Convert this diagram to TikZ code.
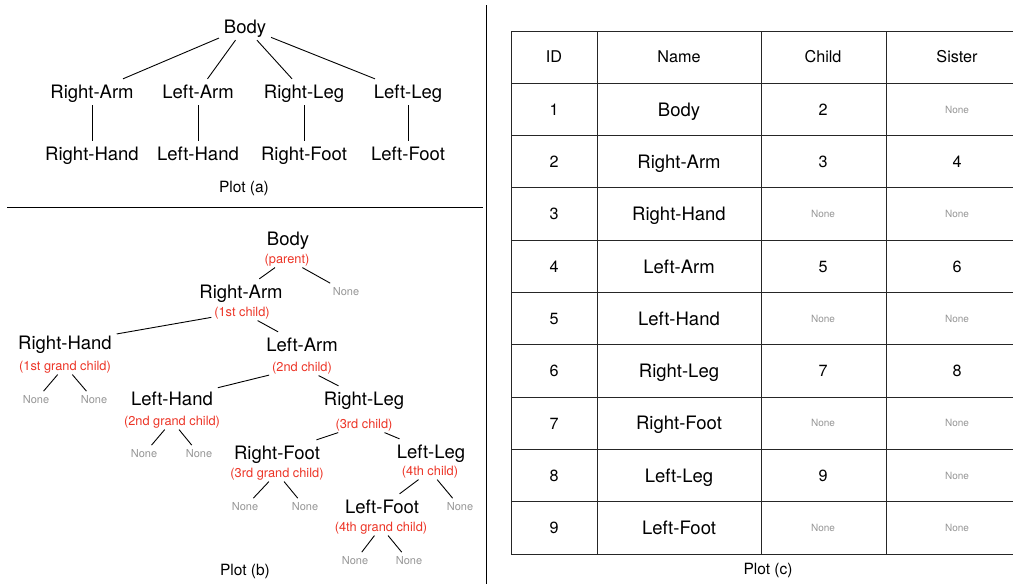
\documentclass[tikz,border=0pt]{standalone}
\usepackage{fontspec}
\setmainfont{TeX Gyre Heros}
\usepackage{xcolor}
\definecolor{rolered}{RGB}{236,52,38}
\definecolor{nonegray}{RGB}{150,150,150}
\newcommand\nn{\raisebox{2.2pt}{\fontsize{10}{12}\selectfont\color{nonegray}None}}

\begin{document}
\begin{tikzpicture}[x=1pt,y=-1pt,
  part/.style={font=\fontsize{18.5}{20}\selectfont, inner sep=2pt, outer sep=3pt, text height=14.8pt, text depth=1.5pt},
  role/.style={font=\fontsize{12.8}{14}\selectfont, text=rolered, inner sep=1.5pt, outer sep=1.5pt, text height=10.2pt, text depth=1pt},
  none/.style={font=\fontsize{11}{13}\selectfont, text=nonegray, inner sep=2pt, outer sep=2pt, text height=8.8pt, text depth=.9pt},
  caption/.style={font=\fontsize{15.5}{17}\selectfont, text height=12.4pt, text depth=1.2pt},
  cell/.style={font=\fontsize{16.2}{18}\selectfont, text height=13pt, text depth=1.3pt},
  link/.style={line width=0.9pt},
  grid/.style={line width=0.9pt, draw=black!85}]
  \useasboundingbox (0,0) rectangle (1013,584);

  % panel borders
  \draw[link] (7,207) -- (483,207);
  \draw[link] (486,5) -- (486,584);

  % plot (a)
  \node[part] (body) at (245,27) {Body};
  \node[part] (rarm) at (92,92) {Right-Arm};
  \node[part] (larm) at (198,92) {Left-Arm};
  \node[part] (rleg) at (304,92) {Right-Leg};
  \node[part] (lleg) at (408,92) {Left-Leg};
  \node[part] (rhand) at (92,154) {Right-Hand};
  \node[part] (lhand) at (198,154) {Left-Hand};
  \node[part] (rfoot) at (304,154) {Right-Foot};
  \node[part] (lfoot) at (408,154) {Left-Foot};
  \node[caption] (capa) at (244,187) {Plot (a)};
  \foreach \a/\b in {body/rarm, body/larm, body/rleg, body/lleg,
                     rarm/rhand, larm/lhand, rleg/rfoot, lleg/lfoot}
    \draw[link] (\a) -- (\b);

  % plot (b)
  \node[part] (b-body) at (288,239) {Body};
  \node[role] (r-body) at (287,259) {(parent)};
  \node[none] (n-body) at (346,292) {None};
  \node[part] (b-rarm) at (241,292) {Right-Arm};
  \node[role] (r-rarm) at (242,312) {(1st child)};
  \node[part] (b-rhand) at (65,343) {Right-Hand};
  \node[role] (r-rhand) at (65,366) {(1st grand child)};
  \node[none] (n1-rhand) at (36,400) {None};
  \node[none] (n2-rhand) at (94,400) {None};
  \node[part] (b-larm) at (302,345) {Left-Arm};
  \node[role] (r-larm) at (302,367) {(2nd child)};
  \node[part] (b-lhand) at (172,399) {Left-Hand};
  \node[role] (r-lhand) at (172,421) {(2nd grand child)};
  \node[none] (n1-lhand) at (144,454) {None};
  \node[none] (n2-lhand) at (199,454) {None};
  \node[part] (b-rleg) at (364,399) {Right-Leg};
  \node[role] (r-rleg) at (364,424) {(3rd child)};
  \node[part] (b-rfoot) at (277,453) {Right-Foot};
  \node[role] (r-rfoot) at (277,473) {(3rd grand child)};
  \node[none] (n1-rfoot) at (245,507) {None};
  \node[none] (n2-rfoot) at (305,507) {None};
  \node[part] (b-lleg) at (431,452) {Left-Leg};
  \node[role] (r-lleg) at (430,471) {(4th child)};
  \node[none] (n-lleg) at (460,507) {None};
  \node[part] (b-lfoot) at (382,507) {Left-Foot};
  \node[role] (r-lfoot) at (381,527) {(4th grand child)};
  \node[none] (n1-lfoot) at (355,561) {None};
  \node[none] (n2-lfoot) at (409,561) {None};
  \node[caption] (capb) at (245,570) {Plot (b)};
  \foreach \a/\b in {r-body/b-rarm, r-body/n-body, r-rarm/b-rhand, r-rarm/b-larm,
                     r-rhand/n1-rhand, r-rhand/n2-rhand, r-larm/b-lhand, r-larm/b-rleg,
                     r-lhand/n1-lhand, r-lhand/n2-lhand, r-rleg/b-rfoot, r-rleg/b-lleg,
                     r-rfoot/n1-rfoot, r-rfoot/n2-rfoot, r-lleg/b-lfoot, r-lleg/n-lleg,
                     r-lfoot/n1-lfoot, r-lfoot/n2-lfoot}
    \draw[link] (\a) -- (\b);

  % plot (c)
  \foreach \k in {0,...,10}
    \draw[grid] (511,{31+52.3*\k}) -- (1013,{31+52.3*\k});
  \foreach \cx in {511,597,761,886}
    \draw[grid] (\cx,31) -- (\cx,554);
  \node[cell] (h-id) at (554,57) {ID};
  \node[cell] (h-name) at (679,57) {Name};
  \node[cell] (h-child) at (823,57) {Child};
  \node[cell] (h-sister) at (957,57) {Sister};
  \foreach \id/\name/\child/\sister [count=\r] in {1/Body/2/\nn, 2/Right-Arm/3/4,
      3/Right-Hand/\nn/\nn, 4/Left-Arm/5/6, 5/Left-Hand/\nn/\nn, 6/Right-Leg/7/8,
      7/Right-Foot/\nn/\nn, 8/Left-Leg/9/\nn, 9/Left-Foot/\nn/\nn} {
    \node[cell] (id-\r) at (554,{57.15+52.3*\r}) {\id};
    \node[part] (name-\r) at (679,{57.15+52.3*\r}) {\name};
    \node[cell] (child-\r) at (823,{57.15+52.3*\r}) {\child};
    \node[cell] (sister-\r) at (957,{57.15+52.3*\r}) {\sister};
  }
  \node[caption] (capc) at (768,569) {Plot (c)};
\end{tikzpicture}
\end{document}
